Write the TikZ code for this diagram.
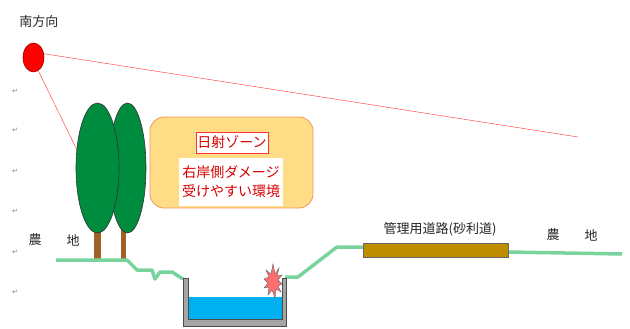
\documentclass[tikz,border=0pt]{standalone}
\usepackage{fontspec}
\usetikzlibrary{shapes.geometric}
\setmainfont{Noto Sans CJK JP}
\newfontfamily\symfont{DejaVu Sans}
\definecolor{groundgreen}{RGB}{120,212,156}
\definecolor{treegreen}{RGB}{0,140,62}
\definecolor{trunkbrown}{RGB}{160,98,40}
\definecolor{zonefill}{RGB}{255,221,135}
\definecolor{zoneborder}{RGB}{240,150,100}
\definecolor{roadfill}{RGB}{191,142,0}
\definecolor{water}{RGB}{0,176,240}
\definecolor{wall}{RGB}{165,165,165}
\definecolor{burst}{RGB}{255,110,110}
\begin{document}
\begin{tikzpicture}[x=1pt,y=-1pt,
  lbl/.style={font=\fontsize{13}{15}\selectfont, text=black!85, inner sep=0pt},
  redlbl/.style={font=\fontsize{14}{19}\selectfont, text=red!85!black, inner sep=0pt, align=center},
  pmark/.style={font=\symfont\fontsize{7}{8}\selectfont, text=black!50, inner sep=0pt},
  ground/.style={draw=groundgreen, line width=3.5pt, line join=round},
  tree/.style={fill=treegreen, draw=black!80, line width=0.6pt},
  ray/.style={draw=red!70, line width=0.5pt}]
\useasboundingbox (0,0) rectangle (630,329);

% paragraph marks down the left margin
\foreach \yy [count=\i] in {91,130,171,211,252,292}
  \node[pmark] (pm\i) at (15,\yy) {↵};

% sun and its rays
\node[lbl] (south) at (39,22) {南方向};
\node[ellipse, minimum width=21pt, minimum height=29pt, fill=red, draw=red!60!black, line width=0.6pt, inner sep=0pt] (sun) at (33.5,57.5) {};
\coordinate (rayend) at (578,137);
\coordinate (treehit) at (77,150);
\draw[ray] (sun.20) -- (rayend);
\draw[ray] (sun.-70) -- (treehit);

% trees
\fill[trunkbrown] (121,225) rectangle (126,260);
\fill[trunkbrown] (94,225) rectangle (101,260);
\draw[tree] (127.5,168) ellipse (18.5 and 65);
\draw[tree] (97.5,168) ellipse (21.5 and 65);

% ground profile
\draw[ground] (56,260) -- (127,260) -- (137,270) -- (152,270) -- (155,279) -- (160,272) -- (172,272) -- (183,279);
\draw[ground] (285,277) -- (298,277) -- (337,247) -- (363,247);
\draw[ground] (508,252) -- (622,254);

% channel with water
\fill[water] (188,297) rectangle (282,319);
\draw[fill=wall, draw=black!70, line width=0.5pt]
  (183,278) -- (183,326) -- (286,326) -- (286,278) -- (282,278) -- (282,319) -- (188,319) -- (188,278) -- cycle;

% damage burst on the right bank
\fill[burst, draw=black!60, line width=0.4pt]
  (273,264) -- (275,274) -- (279,268) -- (277,276) -- (282,275) -- (278,280) -- (282,284)
  -- (278,286) -- (281,292) -- (276,289) -- (275,298) -- (272,290) -- (268,295) -- (269,287)
  -- (264,288) -- (268,283) -- (264,279) -- (269,277) -- (266,270) -- (271,274) -- cycle;

% management road
\node[fill=roadfill, draw=black!60, line width=0.6pt, minimum width=145pt, minimum height=14pt, inner sep=0pt] (road) at (435.5,250) {};
\node[lbl] (roadlbl) at (440,229) {管理用道路(砂利道)};

% farmland labels
\node[lbl] (farmL1) at (35,240) {農};
\node[lbl] (farmL2) at (73,240) {地};
\node[lbl] (farmR1) at (553,235) {農};
\node[lbl] (farmR2) at (591,235) {地};

% sun exposure zone
\node[fill=zonefill, draw=zoneborder, line width=0.8pt, rounded corners=14pt, minimum width=163pt, minimum height=91pt, inner sep=0pt] (zone) at (231.5,162.5) {};
\node[fill=white, draw=red!80, line width=0.5pt, minimum width=72pt, minimum height=21pt, inner sep=0pt, redlbl] (zonetitle) at (232,142.5) {日射ゾーン};
\node[fill=white, minimum width=104pt, minimum height=48pt, inner sep=0pt, redlbl] (zonetext) at (231,182) {右岸側ダメージ\\受けやすい環境};
\end{tikzpicture}
\end{document}
